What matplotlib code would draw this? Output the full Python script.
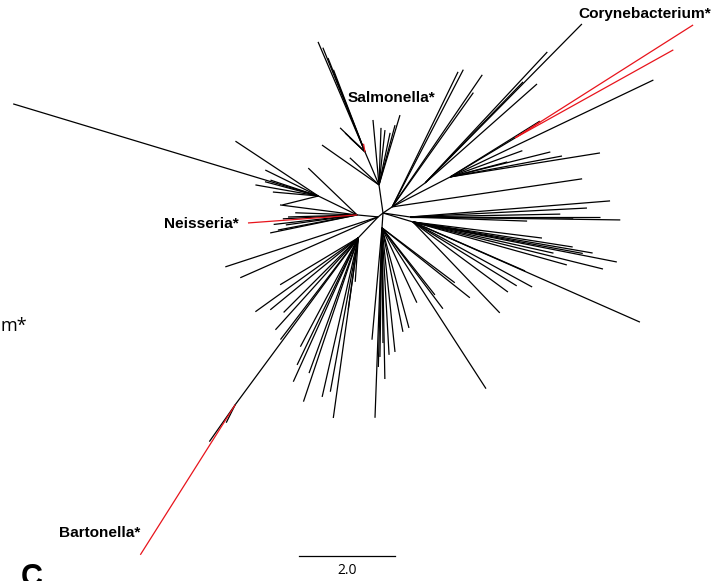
import numpy as np
import matplotlib
matplotlib.use("Agg")
import matplotlib.pyplot as plt
from matplotlib.collections import LineCollection

# ---- tree description -------------------------------------------------
# Internal nodes: parent node, branch length (substitutions/site), branch angle (deg)
hub_names = ["root", "up", "salm", "ur", "coryA", "coryB", "right", "right2",
             "down", "leftbase", "downleft", "barton", "left", "upleft", "coryRed"]
hub_parent = [-1, 0, 1, 0, 3, 3, 0, 0, 0, 0, 9, 10, 9, 12, 5]
hub_len = [0.0, 0.59, 0.75, 0.23, 0.85, 1.36, 0.57, 0.65, 0.31, 0.13, 0.60, 4.32, 0.44, 0.90, 1.58]
hub_ang = [0.0, 98.1, 113.0, 33.7, 36.0, 27.3, -8.4, -16.7, -94.0, -141.0, -133.6, -126.4, 174.6, 154.0, 31.0]

# Terminal branches: node they hang from, branch length, angle, highlighted lineage
leaf_hub = [2, 2, 2, 2, 2, 2, 2, 2,
            1, 1, 1, 1, 1, 1, 1, 1,
            3, 3, 3, 3, 3,
            4, 4, 4, 4,
            5, 5, 5, 5, 5, 5, 5,
            14, 14, 14,
            6, 6, 6, 6, 6, 6, 6,
            7, 7, 7, 7, 7, 7, 7, 7, 7, 7, 7, 7, 7, 7,
            8, 8, 8, 8, 8, 8, 8, 8, 8, 8, 8, 8, 8, 8, 8, 8,
            9, 9,
            10, 10, 10, 10, 10, 10, 10, 10, 10, 10, 10, 10, 10, 10, 10, 10,
            11, 11, 11,
            12, 12, 12, 12, 12, 12, 12, 12, 12, 12,
            13, 13, 13, 13, 13, 13, 13, 13]
leaf_len = [2.49, 2.34, 2.10, 1.83, 0.72, 0.57, 0.43, 0.17,
            1.36, 1.19, 1.15, 1.11, 1.29, 1.52, 1.45, 0.83,
            3.22, 3.13, 3.33, 2.92, 4.00,
            4.65, 3.73, 3.11, 2.93,
            4.69, 2.20, 2.15, 2.37, 3.16, 1.23, 1.60,
            4.39, 3.77, 0.62,
            4.18, 3.96, 4.38, 3.40, 2.44, 3.69, 3.13,
            2.71, 3.37, 3.80, 4.33, 4.08, 3.33, 2.55, 2.83, 2.54, 2.46, 2.62, 5.17, 3.60, 3.00,
            2.34, 3.96, 2.69, 3.15, 2.65, 2.60, 2.21, 2.16, 1.72, 2.11, 1.78, 3.99, 1.90, 2.34, 2.90, 2.40,
            3.35, 3.14,
            2.64, 2.37, 1.90, 2.58, 2.57, 2.94, 3.29, 3.60, 3.40, 3.26, 3.79, 2.67, 0.92, 1.51, 2.20, 3.00,
            3.70, 0.94, 0.42,
            2.28, 1.62, 1.44, 1.68, 1.85, 1.29, 1.41, 1.55, 1.75, 1.50,
            6.64, 2.07, 1.33, 1.23, 0.77, 1.05, 0.95, 1.15]
leaf_ang = [113.1, 112.0, 111.5, 111.0, 136.0, 136.5, 137.0, 100.0,
            95.3, 88.0, 83.8, 78.0, 75.0, 73.3, 145.0, 137.0,
            62.6, 64.0, 55.7, 54.6, 8.4,
            45.4, 47.0, 41.5, 45.9,
            25.5, 31.9, 14.0, 10.6, 9.1, 14.7, 20.0,
            32.4, 29.1, 32.6,
            4.6, 0.0, -0.8, -0.4, -2.0, 2.9, 1.1,
            -7.1, -8.9, -9.8, -11.1, -13.9, -15.6, -23.6, -28.6, -31.6, -36.4, -46.3, -23.8, -10.5, -12.5,
            -95.1, -92.1, -90.9, -88.9, -86.8, -84.0, -78.6, -74.9, -65.0, -53.0, -51.7, -57.1, -37.0, -38.5, -91.5, -89.5,
            -161.9, -156.2,
            -144.3, -140.7, -149.0, -132.0, -118.0, -115.7, -114.3, -108.5, -102.8, -100.3, -97.9, -127.4, -94.0, -98.0, -135.0, -110.0,
            -122.3, -125.0, -116.6,
            184.2, 172.6, 181.7, 190.8, 191.7, 178.0, 136.2, 183.0, 186.5, 188.0,
            163.2, 146.5, 170.0, 153.9, 194.0, 161.6, 175.0, 165.0]
leaf_red = [0, 0, 0, 0, 0, 0, 0, 1,
            0, 0, 0, 0, 0, 0, 0, 0,
            0, 0, 0, 0, 0,
            0, 0, 0, 0,
            0, 0, 0, 0, 0, 0, 0,
            1, 1, 1,
            0, 0, 0, 0, 0, 0, 0,
            0, 0, 0, 0, 0, 0, 0, 0, 0, 0, 0, 0, 0, 0,
            0, 0, 0, 0, 0, 0, 0, 0, 0, 0, 0, 0, 0, 0, 0, 0,
            0, 0,
            0, 0, 0, 0, 0, 0, 0, 0, 0, 0, 0, 0, 0, 0, 0, 0,
            1, 0, 0,
            1, 0, 0, 0, 0, 0, 0, 0, 0, 0,
            0, 0, 0, 0, 0, 0, 0, 0]

clade_labels = ["Salmonella*", "Corynebacterium*", "Neisseria*", "Bartonella*"]
scale_len = 2.0
scale_text = "2.0"
panel_letter = "C"

# ---- layout -------------------------------------------------------------
PX = 48.0          # pixels per tree unit
W, H = 718, 581
ROOT_PX = (383, 213)


def at(px, py):
    """Pixel position on the canvas -> tree coordinates."""
    return (px - ROOT_PX[0]) / PX, (ROOT_PX[1] - py) / PX


hub_xy = np.zeros((len(hub_names), 2))
black, red = [], []
for i in range(len(hub_names)):
    p = hub_parent[i]
    if p < 0:
        continue
    a = np.radians(hub_ang[i])
    hub_xy[i] = hub_xy[p] + hub_len[i] * np.array([np.cos(a), np.sin(a)])
    black.append([hub_xy[p], hub_xy[i]])

for h, L, ang, r in zip(leaf_hub, leaf_len, leaf_ang, leaf_red):
    a = np.radians(ang)
    end = hub_xy[h] + L * np.array([np.cos(a), np.sin(a)])
    (red if r else black).append([hub_xy[h], end])

fig = plt.figure(figsize=(W / 100, H / 100), dpi=100)
ax = fig.add_axes([0, 0, 1, 1])
x0, y0 = at(0, H)
x1, y1 = at(W, 0)
ax.set_xlim(x0, x1)
ax.set_ylim(y0, y1)
ax.axis("off")

ax.add_collection(LineCollection(black, colors="black", linewidths=0.9, zorder=2))
ax.add_collection(LineCollection(red, colors="#e8141c", linewidths=0.9, zorder=3))

bold = dict(family=["Liberation Sans", "DejaVu Sans"], fontweight="bold", fontsize=11.1)
ax.text(*at(348, 98), clade_labels[0], ha="left", va="center", **bold)
ax.text(*at(578, 14), clade_labels[1], ha="left", va="center", **bold)
ax.text(*at(164, 224), clade_labels[2], ha="left", va="center", **bold)
ax.text(*at(59, 533), clade_labels[3], ha="left", va="center", **bold)

ax.text(*at(0, 326), "m*", ha="left", va="center", fontsize=13,
        family=["Open Sans", "DejaVu Sans"])
ax.text(*at(21, 586), panel_letter, ha="left", va="baseline", fontsize=22,
        fontweight="bold", family=["Liberation Sans", "DejaVu Sans"])

# scale bar
sx, sy = at(299, 556)
ax.plot([sx, sx + scale_len], [sy, sy], color="black", lw=0.9)
ax.text(sx + scale_len / 2, at(0, 571)[1], scale_text, ha="center", va="center",
        fontsize=10, family=["Open Sans", "DejaVu Sans"])

fig.savefig("out.png", dpi=100)
